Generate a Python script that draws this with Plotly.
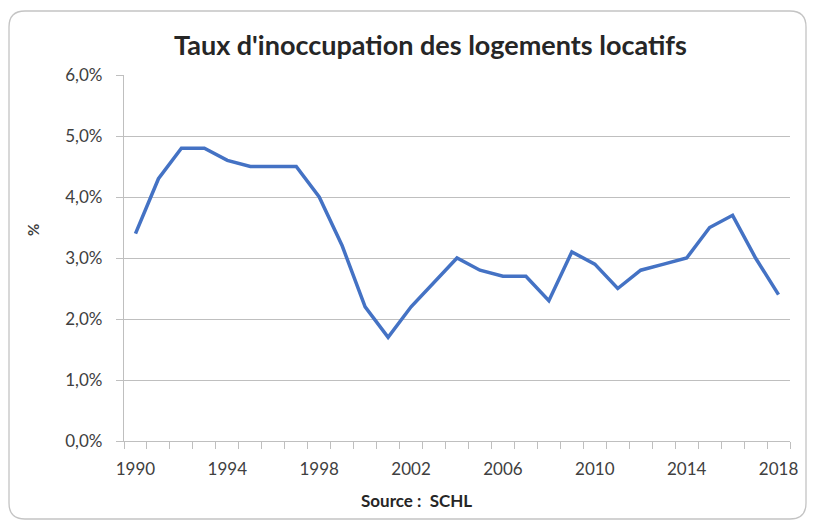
import plotly.graph_objects as go

years = list(range(1990, 2019))
rates = [3.4, 4.3, 4.8, 4.8, 4.6, 4.5, 4.5, 4.5, 4.0, 3.2, 2.2, 1.7, 2.2, 2.6, 3.0,
         2.8, 2.7, 2.7, 2.3, 3.1, 2.9, 2.5, 2.8, 2.9, 3.0, 3.5, 3.7, 3.0, 2.4]
tick_years = [1990, 1994, 1998, 2002, 2006, 2010, 2014, 2018]
y_ticks = [0, 1, 2, 3, 4, 5, 6]

OFF = 8                      # page body margin
PW, PH = 817, 523            # page size
W, H = PW - OFF, PH - OFF    # figure size
L, R, T, B = 124, 790, 75, 441   # plot area in page pixels

def px(x):
    return (x - L) / (R - L)

def py(y):
    return (B - y) / (B - T)

FONT = "Lato, 'Open Sans', sans-serif"

fig = go.Figure()
fig.add_trace(go.Scatter(x=years, y=rates, mode="lines",
                         line=dict(color="#4472C4", width=3.5), hoverinfo="x+y"))

# rounded chart border
x0, x1, y0, y1, r = 9, 806, 11, 519, 16
path = (f"M {px(x0+r)},{py(y0)} L {px(x1-r)},{py(y0)} Q {px(x1)},{py(y0)} {px(x1)},{py(y0+r)} "
        f"L {px(x1)},{py(y1-r)} Q {px(x1)},{py(y1)} {px(x1-r)},{py(y1)} "
        f"L {px(x0+r)},{py(y1)} Q {px(x0)},{py(y1)} {px(x0)},{py(y1-r)} "
        f"L {px(x0)},{py(y0+r)} Q {px(x0)},{py(y0)} {px(x0+r)},{py(y0)} Z")

fig.update_layout(
    width=W, height=H,
    margin=dict(l=L - OFF, r=PW - R, t=T - OFF, b=PH - B, pad=0),
    paper_bgcolor="white", plot_bgcolor="white",
    showlegend=False,
    font=dict(family=FONT, color="#595959", size=16),
    shapes=[dict(type="path", xref="paper", yref="paper", path=path,
                 line=dict(color="#c4c4c4", width=1.3), layer="below")],
    annotations=[
        dict(text="<b>Taux d'inoccupation des logements locatifs</b>", xref="paper", yref="paper",
             x=px(430), y=py(45), showarrow=False, xanchor="center", yanchor="middle",
             font=dict(size=27, color="#262626", family=FONT)),
        dict(text="<b>Source :  SCHL</b>", xref="paper", yref="paper",
             x=px(416), y=py(500), showarrow=False, xanchor="center", yanchor="middle",
             font=dict(size=17, color="#262626", family=FONT)),
        dict(text="<b>%</b>", xref="paper", yref="paper", textangle=-90,
             x=px(33), y=py(230), showarrow=False, xanchor="center", yanchor="middle",
             font=dict(size=15, color="#404040", family=FONT)),
    ],
)

fig.update_xaxes(
    range=[1989.5, 2018.5],
    tickvals=tick_years, ticktext=[str(v) for v in tick_years],
    ticks="", showgrid=False, zeroline=False,
    showline=True, linecolor="#bfbfbf", linewidth=1.3,
    tickfont=dict(size=17, color="#404040", family=FONT),
    ticklabelstandoff=12,
    minor=dict(tick0=1989.5, dtick=1, ticks="outside", ticklen=7, tickcolor="#bfbfbf",
               tickwidth=1.2, showgrid=False),
)
fig.update_yaxes(
    range=[0, 6], tickvals=y_ticks, ticktext=[f"{v},0%" for v in y_ticks],
    showgrid=True, gridcolor="#bfbfbf", gridwidth=1.3,
    ticks="outside", ticklen=7, tickcolor="#bfbfbf",
    showline=True, linecolor="#bfbfbf", linewidth=1.3, zeroline=False,
    tickfont=dict(size=17, color="#404040", family=FONT),
    ticklabelstandoff=10,
)

fig.write_html("out.html")
